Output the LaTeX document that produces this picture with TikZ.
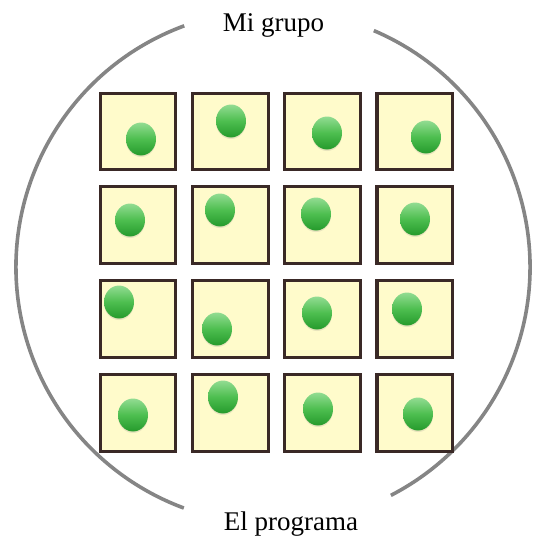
\documentclass[tikz,border=0pt]{standalone}
\usepackage{fontspec}
\setmainfont{Liberation Serif}
\usetikzlibrary{shapes.geometric,shadows}

\definecolor{cellfill}{HTML}{FFFBCB}
\definecolor{cellborder}{HTML}{3A2926}
\definecolor{ringgray}{HTML}{858585}
\definecolor{dottop}{HTML}{92DC92}
\definecolor{dotmid}{HTML}{4DBE4F}
\definecolor{dotbot}{HTML}{259A2C}

\begin{document}
\begin{tikzpicture}[x=1pt,y=-1pt,
  cell/.style={draw=cellborder, fill=cellfill, line width=3.4pt,
    minimum width=75.5pt, minimum height=76.5pt, inner sep=0pt,
    drop shadow={shadow xshift=0.8pt, shadow yshift=-1.2pt, opacity=0.25}},
  dot/.style={ellipse, minimum width=30pt, minimum height=33pt, inner sep=0pt,
    top color=dottop, bottom color=dotbot, middle color=dotmid,
    drop shadow={shadow xshift=0pt, shadow yshift=-1.5pt, opacity=0.18}},
  ring/.style={draw=ringgray, line width=3.6pt},
  caption/.style={font=\fontsize{27}{30}\selectfont, inner sep=0pt, anchor=base}
]
\useasboundingbox (0,0) rectangle (540,535);

% outer ring, split into two arcs around the captions
\coordinate (c) at (273,267);
\draw[ring] (c) ++(-110.2:257) coordinate (ltop)
  arc[start angle=-110.2, end angle=-249.7, radius=257] coordinate (lbot);
\draw[ring] (c) ++(-66.9:257) coordinate (rtop)
  arc[start angle=-66.9, end angle=62.7, radius=257] coordinate (rbot);

% captions
\node[caption] (top) at (273.5,32) {Mi grupo};
\node[caption] (bottom) at (291,530) {El programa};

% 4x4 grid of cells
\foreach \r/\y in {1/131.5,2/225,3/319,4/413}{
  \foreach \c/\x in {1/138,2/230.5,3/322.5,4/414.8}{
    \node[cell] (cell\r\c) at (\x,\y) {};
  }
}

% one member in each cell
\foreach \n/\x/\y in {
  11/141/139, 12/231/121, 13/327/133, 14/426/137,
  21/130/220, 22/220/210, 23/316/214, 24/415/219,
  31/119/302, 32/217/329, 33/317/313, 34/407/309,
  41/133/415, 42/223/397, 43/318/409, 44/418/414}{
  \node[dot] (dot\n) at (\x,\y) {};
}
\end{tikzpicture}
\end{document}
